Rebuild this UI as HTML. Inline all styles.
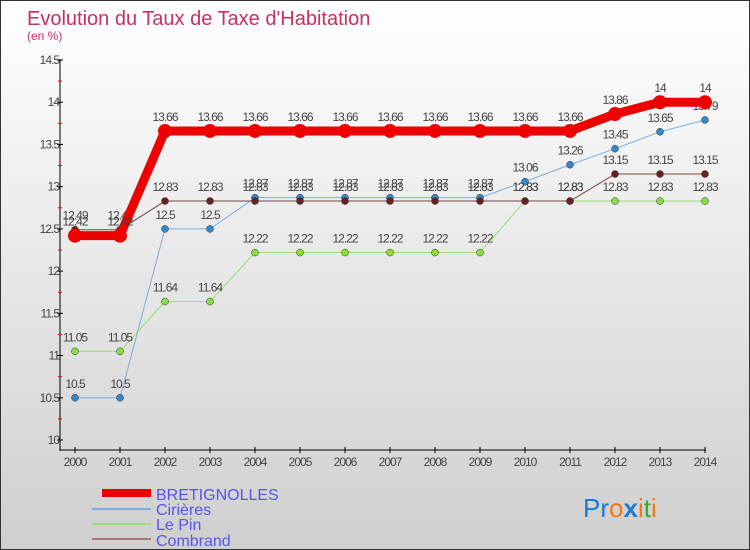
<!DOCTYPE html>
<html><head><meta charset="utf-8"><style>
body{margin:0}
#c{position:relative;width:748px;height:548px;border:1px solid #333;background:linear-gradient(#ffffff,#cfcfcf);overflow:hidden;font-family:"Liberation Sans",sans-serif}
svg text{font-family:"Liberation Sans",sans-serif}
</style></head><body>
<div id="c">
<svg id="s" width="748" height="548">
<text x="26" y="24" font-size="20" fill="#c8305f">Evolution du Taux de Taxe d'Habitation</text>
<text x="26" y="39" font-size="12" fill="#c8305f">(en %)</text>
<g id="ax"></g><g id="ser"></g>
<g>
<line x1="101" y1="492" x2="150" y2="492" stroke="#e00" stroke-width="8"/>
<text x="155" y="499" font-size="16" fill="#5555ee">BRETIGNOLLES</text>
<line x1="91" y1="508" x2="150" y2="508" stroke="#7aaee0" stroke-width="2"/>
<text x="155" y="514" font-size="16" fill="#5555ee">Cirières</text>
<line x1="91" y1="523" x2="150" y2="523" stroke="#99dd77" stroke-width="2"/>
<text x="155" y="529" font-size="16" fill="#5555ee">Le Pin</text>
<line x1="91" y1="538" x2="150" y2="538" stroke="#aa7777" stroke-width="2"/>
<text x="155" y="545" font-size="16" fill="#5555ee">Combrand</text>
</g>
<text x="582" y="516" font-size="26"><tspan fill="#1a7ad4">Pr</tspan><tspan fill="#f07a10">o</tspan><tspan fill="#1a7ad4" font-weight="bold">x</tspan><tspan fill="#f07a10">i</tspan><tspan fill="#3a3">t</tspan><tspan fill="#f07a10">i</tspan></text>
</svg></div>
<script>
const years=[2000,2001,2002,2003,2004,2005,2006,2007,2008,2009,2010,2011,2012,2013,2014];
const yTicks=[10,10.5,11,11.5,12,12.5,13,13.5,14,14.5];
const bretignolles=[12.42,12.42,13.66,13.66,13.66,13.66,13.66,13.66,13.66,13.66,13.66,13.66,13.86,14,14];
const cirieres=[10.5,10.5,12.5,12.5,12.87,12.87,12.87,12.87,12.87,12.87,13.06,13.26,13.45,13.65,13.79];
const lePin=[11.05,11.05,11.64,11.64,12.22,12.22,12.22,12.22,12.22,12.22,12.83,12.83,12.83,12.83,12.83];
const combrand=[12.49,12.49,12.83,12.83,12.83,12.83,12.83,12.83,12.83,12.83,12.83,12.83,13.15,13.15,13.15];
const NS="http://www.w3.org/2000/svg";
const X=i=>74+i*45, Y=v=>439-(v-10)*84.44;
function mk(t,a,p){const e=document.createElementNS(NS,t);for(const k in a)e.setAttribute(k,a[k]);p.appendChild(e);return e;}
const ax=document.getElementById('ax'),ser=document.getElementById('ser');
mk('line',{x1:59,y1:58,x2:59,y2:450,stroke:'#000'},ax);
mk('line',{x1:59,y1:449,x2:705,y2:449,stroke:'#000'},ax);
yTicks.forEach(v=>{
 mk('line',{x1:56,y1:Y(v),x2:62,y2:Y(v),stroke:'#000'},ax);
 if(v<14.5) mk('line',{x1:57,y1:Y(v+0.25),x2:61,y2:Y(v+0.25),stroke:'#e00'},ax);
 const t=mk('text',{x:58,y:Y(v)+4,'font-size':12,'text-anchor':'end',fill:'#444','letter-spacing':'-1'},ax);
 
 
 t.textContent=v;
});
years.forEach((y,i)=>{
 mk('line',{x1:X(i),y1:446,x2:X(i),y2:452,stroke:'#000'},ax);
 const t=mk('text',{x:X(i),y:465,'font-size':12,'text-anchor':'middle',fill:'#444','letter-spacing':'-1'},ax);
 
 
 t.textContent=y;
});
function series(d,name,col,w,r,dot){
 const g=mk('g',{},ser);
 
 
 const p=mk('polyline',{points:d.map((v,i)=>X(i)+','+Y(v)).join(' '),fill:'none',stroke:col,'stroke-width':w,'stroke-linejoin':'round'},g);
 d.forEach((v,i)=>{
  const c=mk('circle',{cx:X(i),cy:Y(v),r:r,fill:dot,stroke:'#333','stroke-width':w>5?0:0.5},g);
  
  
  const t=mk('text',{x:X(i),y:Y(v)-10,'font-size':12,'text-anchor':'middle',fill:'#444','letter-spacing':'-1'},g);
  
  
  t.textContent=v;
 });
}
series(lePin,'le-pin','#99dd77',1,3.5,'#88dd44');
series(cirieres,'cirieres','#7aaee0',1,3.5,'#3388cc');
series(combrand,'combrand','#774444',1,3.5,'#662222');
series(bretignolles,'bretignolles','#ee0000',9,7,'#ee0000');
</script>
</body></html>
